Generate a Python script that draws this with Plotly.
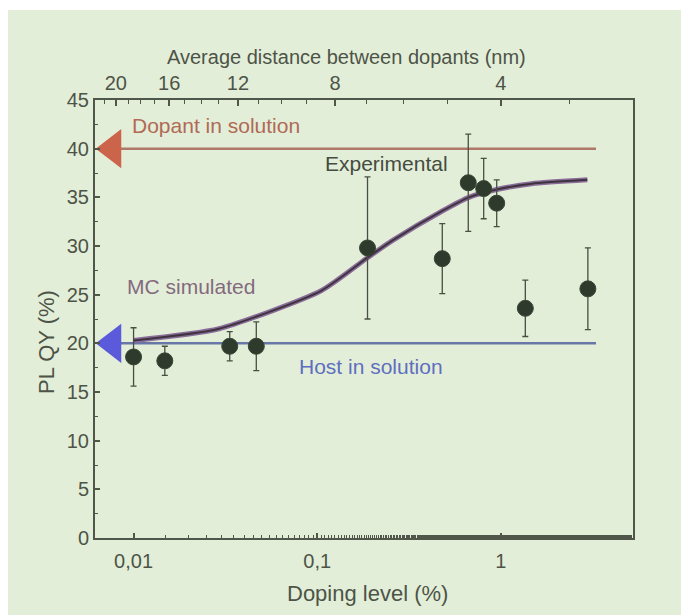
import plotly.graph_objects as go

# Measured photoluminescence quantum yield vs. doping level
doping = [0.010, 0.0148, 0.0334, 0.0466, 0.188, 0.48, 0.665, 0.807, 0.95, 1.36, 2.98]
plqy = [18.6, 18.2, 19.7, 19.7, 29.8, 28.7, 36.5, 35.9, 34.4, 23.6, 25.6]
plqy_err = [3.0, 1.5, 1.5, 2.5, 7.3, 3.6, 5.0, 3.1, 2.4, 2.9, 4.2]

# Monte-Carlo simulated curve
sim_doping = [0.01, 0.0292, 0.105, 0.188, 0.259, 0.48, 0.67, 0.95, 1.47, 2.96]
sim_plqy = [20.3, 21.5, 25.4, 28.8, 30.6, 33.6, 35.0, 35.8, 36.4, 36.8]

# Reference levels (solution values)
dopant_solution = 40
host_solution = 20
ref_line_x = [0.0085, 3.3]

# Axis ticks
y_ticks = [0, 5, 10, 15, 20, 25, 30, 35, 40, 45]
x_tick_vals = [0.01, 0.1, 1]
x_tick_text = ["0,01", "0,1", "1"]
dist_major = [20, 16, 12, 8, 4]
dist_minor = [21, 19, 18, 17, 15, 14, 13, 11, 10, 9, 7, 6, 5, 3]


def dist_to_doping(d):
    # average dopant spacing scales as c^(-1/3); 4 nm corresponds to 1 %
    return (4.0 / d) ** 3


XR = [-2.21, 0.72]
FONT = "Liberation Sans, Arial, sans-serif"
AX = "#50564a"
TXT = "#4d5447"

W, H = 681, 615
L, R, T, B = 95, 48, 100, 77
pw, ph = W - L - R, H - T - B


def px_x(px):
    return (px - L) / pw


def px_y(py):
    return (H - B - py) / ph


fig = go.Figure()

# reference lines
fig.add_trace(go.Scatter(x=ref_line_x, y=[dopant_solution] * 2, mode="lines",
                         line=dict(color="#b07868", width=2.5), hoverinfo="skip"))
fig.add_trace(go.Scatter(x=ref_line_x, y=[host_solution] * 2, mode="lines",
                         line=dict(color="#6876a8", width=2.5), hoverinfo="skip"))
# arrow heads at the left axis
fig.add_trace(go.Scatter(x=[0.0077], y=[dopant_solution], mode="markers",
                         marker=dict(symbol="triangle-left", size=34, color="#cc644c",
                                     line=dict(width=0)), hoverinfo="skip", cliponaxis=False))
fig.add_trace(go.Scatter(x=[0.0077], y=[host_solution], mode="markers",
                         marker=dict(symbol="triangle-left", size=34, color="#5a5ada",
                                     line=dict(width=0)), hoverinfo="skip", cliponaxis=False))

# simulated curve (purple halo with dark core)
fig.add_trace(go.Scatter(x=sim_doping, y=sim_plqy, mode="lines",
                         line=dict(color="#8a6c98", width=5, shape="spline", smoothing=0.6),
                         hoverinfo="skip"))
fig.add_trace(go.Scatter(x=sim_doping, y=sim_plqy, mode="lines",
                         line=dict(color="#3e3440", width=2, shape="spline", smoothing=0.6),
                         hoverinfo="skip"))

# experimental points with error bars
fig.add_trace(go.Scatter(x=doping, y=plqy, mode="markers",
                         marker=dict(size=16, color="#2e3a2c",
                                     line=dict(color="#3a4636", width=1)),
                         error_y=dict(type="data", array=plqy_err, visible=True,
                                      color="#4a4e42", thickness=1.3, width=3)))

# invisible trace carrying the top axis
fig.add_trace(go.Scatter(x=[0.01], y=[0], xaxis="x2", mode="markers",
                         marker=dict(opacity=0), hoverinfo="skip"))

ann = [
    ("Dopant in solution", -1.552, 42.4, "#b06a55"),
    ("Experimental", -0.623, 38.5, "#454c40"),
    ("MC simulated", -1.689, 25.8, "#836a7e"),
    ("Host in solution", -0.705, 17.6, "#5f6fbf"),
]
for text, ax_x, ax_y, col in ann:
    fig.add_annotation(x=ax_x, y=ax_y, xref="x", yref="y", text=text, showarrow=False,
                       font=dict(family=FONT, size=21, color=col))

# axis titles
titles = [
    ("Average distance between dopants (nm)", 346, 57, 0, 20),
    ("Doping level (%)", 367, 593, 0, 22),
    ("PL QY (%)", 46, 342, -90, 22),
]
for text, tx, ty, ang, fs in titles:
    fig.add_annotation(x=px_x(tx), y=px_y(ty), xref="paper", yref="paper",
                       xanchor="center", yanchor="middle", text=text, showarrow=False,
                       textangle=ang, font=dict(family=FONT, size=fs, color=TXT))

# slide background with a white strip along the top/left
fig.add_shape(type="rect", xref="paper", yref="paper", layer="below",
              x0=px_x(8), x1=px_x(W + 20), y0=px_y(H + 20), y1=px_y(10),
              fillcolor="#e3eed9", line=dict(width=0))

fig.update_layout(
    width=W, height=H,
    margin=dict(l=L, r=R, t=T, b=B),
    paper_bgcolor="white",
    plot_bgcolor="rgba(0,0,0,0)",
    showlegend=False,
    font=dict(family=FONT, size=20, color=TXT),
    xaxis=dict(
        type="log", range=XR,
        tickvals=x_tick_vals, ticktext=x_tick_text,
        ticks="inside", ticklen=5, tickwidth=1.5, tickcolor=AX,
        minor=dict(ticks="inside", ticklen=3, tickwidth=1, tickcolor=AX),
        showline=True, linecolor=AX, linewidth=2, mirror=False,
        showgrid=False, zeroline=False,
        ticklabelstandoff=4,
        tickfont=dict(size=20, color=TXT),
    ),
    xaxis2=dict(
        type="log", range=XR, overlaying="x", side="top",
        tickvals=[dist_to_doping(d) for d in dist_major],
        ticktext=[str(d) for d in dist_major],
        ticks="inside", ticklen=6, tickwidth=1.5, tickcolor=AX,
        minor=dict(tickmode="array", tickvals=[dist_to_doping(d) for d in dist_minor],
                   ticks="inside", ticklen=4, tickwidth=1.2, tickcolor=AX),
        showline=True, linecolor=AX, linewidth=2,
        showgrid=False, zeroline=False,
        tickfont=dict(size=20, color=TXT),
    ),
    yaxis=dict(
        range=[0, 45], tickvals=y_ticks,
        ticks="inside", ticklen=5, tickwidth=1.5, tickcolor=AX,
        minor=dict(dtick=2.5, ticks="inside", ticklen=3, tickwidth=1, tickcolor=AX),
        showline=True, linecolor=AX, linewidth=2, mirror=True,
        showgrid=False, zeroline=False,
        tickfont=dict(size=20, color=TXT),
    ),
)

fig.write_html("out.html")
